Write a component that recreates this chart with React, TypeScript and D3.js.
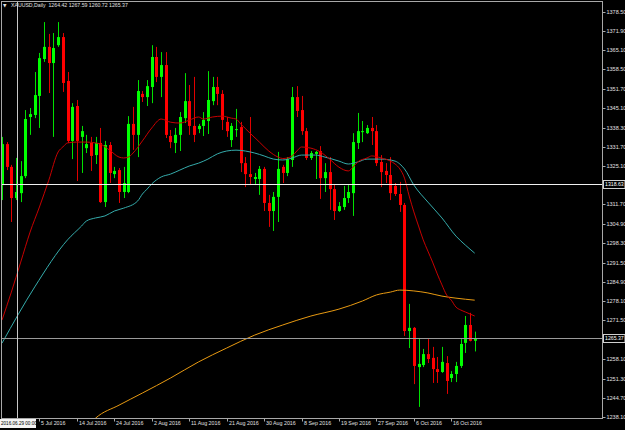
import React, { useEffect, useRef } from "react";
import * as d3 from "d3";

// XAUUSD daily, one candle per bar (broker has Sunday bars): 26 Jun 2016 .. 21 Oct 2016
const symbol = "XAUUSD,Daily";

const opens = [
  1318.4, 1332.6, 1324.7, 1313.9, 1315.6, 1321.5, 1342.0, 1342.7, 1349.3, 1362.1,
  1366.3, 1360.7, 1366.9, 1369.7, 1354.5, 1333.7, 1345.8, 1335.1, 1331.2, 1333.0,
  1328.8, 1333.0, 1312.5, 1332.3, 1322.2, 1323.6, 1316.0, 1316.0, 1339.6, 1335.8,
  1350.0, 1348.9, 1352.4, 1362.8, 1355.9, 1360.0, 1335.4, 1333.0, 1335.8, 1341.6,
  1347.5, 1338.9, 1337.8, 1338.9, 1340.6, 1347.5, 1352.4, 1350.0, 1340.3, 1334.0,
  1337.5, 1338.5, 1326.0, 1322.2, 1320.5, 1320.5, 1324.0, 1312.2, 1309.4, 1314.3,
  1324.7, 1322.6, 1327.1, 1348.9, 1344.4, 1337.1, 1327.8, 1329.2, 1330.2, 1320.8,
  1322.9, 1317.0, 1309.4, 1310.8, 1313.9, 1315.6, 1333.0, 1336.8, 1336.4, 1338.2,
  1337.1, 1326.4, 1323.3, 1321.9, 1318.1, 1315.3, 1311.5, 1267.8, 1268.9, 1255.3,
  1256.0, 1259.8, 1258.5, 1254.6, 1253.6, 1256.7, 1251.5, 1252.9, 1255.7, 1263.7,
  1269.9, 1264.42,
];
const highs = [
  1335.1, 1333.3, 1325.4, 1327.8, 1326.7, 1344.4, 1345.1, 1357.6, 1364.2, 1374.9,
  1370.8, 1371.1, 1374.9, 1371.1, 1357.6, 1346.8, 1347.9, 1338.9, 1335.8, 1335.1,
  1335.1, 1338.2, 1333.7, 1333.3, 1324.7, 1324.3, 1324.7, 1342.3, 1345.5, 1354.8,
  1351.0, 1354.8, 1366.9, 1366.3, 1364.5, 1364.5, 1337.5, 1338.2, 1343.7, 1357.2,
  1353.1, 1355.9, 1339.6, 1343.7, 1357.9, 1355.9, 1355.9, 1351.3, 1342.0, 1339.9,
  1344.8, 1340.3, 1328.1, 1342.0, 1322.6, 1325.0, 1324.7, 1315.0, 1316.0, 1329.9,
  1325.4, 1328.1, 1352.4, 1352.7, 1349.3, 1338.2, 1330.2, 1330.2, 1331.9, 1326.0,
  1328.1, 1318.4, 1312.5, 1318.1, 1318.4, 1336.4, 1343.4, 1340.6, 1339.2, 1342.0,
  1339.2, 1328.8, 1326.0, 1328.1, 1319.1, 1319.5, 1312.2, 1277.2, 1269.2, 1265.4,
  1261.6, 1265.0, 1262.3, 1258.8, 1262.3, 1259.1, 1253.9, 1257.1, 1265.0, 1273.0,
  1274.1, 1267.59,
];
const lows = [
  1313.2, 1323.6, 1305.6, 1313.2, 1312.5, 1320.8, 1335.8, 1341.6, 1338.2, 1361.1,
  1350.3, 1335.1, 1366.3, 1350.7, 1333.0, 1327.4, 1319.8, 1322.6, 1329.5, 1323.3,
  1325.7, 1312.2, 1310.8, 1319.1, 1320.8, 1312.2, 1313.9, 1315.6, 1330.6, 1328.1,
  1347.2, 1345.8, 1346.8, 1354.1, 1348.9, 1334.7, 1331.2, 1329.5, 1330.2, 1339.9,
  1335.8, 1333.3, 1336.4, 1335.4, 1336.1, 1346.1, 1346.1, 1337.5, 1335.1, 1331.6,
  1335.1, 1322.9, 1317.7, 1318.4, 1318.4, 1315.0, 1309.4, 1303.9, 1302.5, 1305.6,
  1319.1, 1321.5, 1324.7, 1342.0, 1335.8, 1327.1, 1327.1, 1320.5, 1313.6, 1316.0,
  1309.8, 1306.3, 1309.1, 1309.8, 1312.2, 1307.7, 1330.9, 1333.3, 1336.1, 1332.3,
  1325.0, 1317.7, 1319.1, 1313.2, 1314.6, 1309.1, 1266.1, 1261.9, 1249.4, 1241.5,
  1255.3, 1256.7, 1249.8, 1249.8, 1253.3, 1246.0, 1250.1, 1250.1, 1255.0, 1260.2,
  1264.2, 1260.72,
];
const closes = [
  1332.6, 1324.7, 1313.9, 1316.0, 1321.5, 1341.3, 1343.0, 1349.6, 1362.4, 1366.3,
  1360.7, 1365.9, 1369.7, 1353.8, 1333.7, 1345.5, 1333.7, 1337.1, 1332.6, 1328.5,
  1333.0, 1312.5, 1332.3, 1322.6, 1323.3, 1316.0, 1319.1, 1339.6, 1335.8, 1351.0,
  1348.9, 1352.7, 1362.8, 1355.9, 1360.0, 1335.8, 1333.3, 1335.8, 1342.0, 1347.5,
  1338.9, 1335.8, 1338.9, 1341.0, 1347.9, 1352.4, 1350.0, 1341.0, 1337.1, 1338.9,
  1337.8, 1326.0, 1322.2, 1321.2, 1321.2, 1324.0, 1312.2, 1309.4, 1314.3, 1324.0,
  1322.6, 1327.4, 1348.9, 1344.1, 1337.1, 1327.8, 1329.5, 1329.9, 1320.8, 1322.9,
  1317.0, 1309.4, 1311.1, 1313.9, 1316.0, 1333.3, 1337.1, 1337.1, 1338.2, 1337.1,
  1326.0, 1322.9, 1321.9, 1315.6, 1315.3, 1311.5, 1267.8, 1268.9, 1255.7, 1256.4,
  1259.8, 1258.1, 1254.6, 1253.6, 1257.1, 1250.5, 1252.9, 1255.7, 1263.3, 1269.9,
  1264.4, 1265.37,
];

// moving averages: [bar index, price]
const maFast: [number, number][] = [
  [0, 1271.6], [2, 1281.3], [4, 1291.7], [6, 1302.1], [8, 1310.8], [10, 1320.1],
  [12, 1329.9], [13, 1331.6], [14, 1333.0], [16, 1333.3], [18, 1333.3], [20, 1333.0],
  [21, 1332.6], [23, 1330.5], [25, 1328.1], [26, 1327.8], [27, 1328.1], [28, 1329.5],
  [30, 1333.7], [32, 1338.2], [34, 1341.3], [36, 1340.2], [38, 1339.9], [40, 1340.9],
  [42, 1342.0], [43, 1341.3], [45, 1342.0], [47, 1342.3], [49, 1341.6], [50, 1341.3],
  [51, 1339.6], [53, 1336.4], [55, 1333.3], [57, 1330.2], [59, 1328.1], [60, 1327.6],
  [61, 1327.8], [62, 1328.5], [63, 1330.2], [64, 1331.6], [66, 1331.2], [68, 1329.9],
  [70, 1327.4], [72, 1324.6], [74, 1323.3], [75, 1324.6], [76, 1326.4], [78, 1327.8],
  [79, 1328.5], [81, 1327.8], [83, 1326.7], [84, 1325.7], [85, 1324.0], [86, 1320.8],
  [87, 1314.6], [88, 1309.1], [89, 1304.2], [90, 1299.4], [91, 1295.5], [92, 1291.7],
  [93, 1287.6], [94, 1283.8], [95, 1280.3], [96, 1278.5], [97, 1276.1], [98, 1275.1],
  [99, 1274.4], [100, 1273.7], [101, 1273.0],
];
const maMid: [number, number][] = [
  [0, 1263.6], [7, 1283.1], [14, 1299.4], [17, 1304.2], [18, 1305.9], [20, 1307.0],
  [22, 1307.7], [24, 1309.4], [26, 1310.4], [29, 1312.9], [30, 1315.3], [31, 1317.0],
  [32, 1318.8], [34, 1321.2], [36, 1322.2], [38, 1323.6], [40, 1325.0], [42, 1326.0],
  [44, 1327.4], [46, 1329.2], [48, 1330.2], [50, 1330.5], [52, 1330.2], [54, 1329.5],
  [56, 1328.5], [58, 1327.4], [60, 1327.1], [62, 1327.8], [64, 1328.8], [67, 1328.8],
  [69, 1328.1], [72, 1326.7], [74, 1325.7], [76, 1326.4], [78, 1327.4], [81, 1327.4],
  [84, 1326.7], [85, 1325.7], [86, 1324.0], [88, 1318.4], [91, 1312.5], [94, 1307.0],
  [97, 1300.7], [99, 1297.6], [101, 1294.8],
];
const maSlow: [number, number][] = [
  [19, 1236.0], [20, 1237.6], [25, 1242.1], [30, 1246.3], [36, 1251.5], [42, 1257.1],
  [48, 1261.9], [54, 1266.4], [60, 1269.9], [66, 1273.0], [72, 1275.4], [77, 1278.2],
  [80, 1280.3], [83, 1281.3], [85, 1282.0], [88, 1281.7], [91, 1281.0], [94, 1279.9],
  [97, 1279.2], [101, 1278.5],
];

const priceTicks = [
  1378.5, 1371.9, 1365.1, 1358.5, 1351.7, 1345.1, 1338.3, 1331.7, 1325.1, 1311.7,
  1304.9, 1298.3, 1291.5, 1284.9, 1278.1, 1271.5, 1258.1, 1251.3, 1244.7, 1238.1,
];
const timeTickBars = [8, 16, 24, 32, 40, 48, 56, 64, 72, 80, 88, 96];
const timeTickLabels = [
  "5 Jul 2016", "14 Jul 2016", "24 Jul 2016", "2 Aug 2016", "11 Aug 2016", "21 Aug 2016",
  "30 Aug 2016", "8 Sep 2016", "19 Sep 2016", "27 Sep 2016", "6 Oct 2016", "16 Oct 2016",
];

const hLinePrice = 1318.63;
const bidPrice = 1265.37;
const vLineBar = 3;
const vLineLabel = "2016.06.29 00:00";

const font = "'Liberation Sans', Arial, sans-serif";

const App = () => {
  const svgRef = useRef<SVGSVGElement>(null);

  useEffect(() => {
    document.body.style.margin = "0";
    document.body.style.background = "#000";

    const svg = d3.select(svgRef.current);
    svg.selectAll("*").remove();

    const W = 625;
    const H = 430;
    const plot = { left: 1.5, right: 602.5, top: 1.5, bottom: 418.5 };

    const x = d3.scaleLinear().domain([0, opens.length - 1]).range([2, 474.7]);
    const y = d3.scaleLinear().domain([1238.1, 1378.5]).range([416.7, 11.7]);

    svg.append("rect").attr("width", W).attr("height", H).attr("fill", "#000");

    svg
      .append("clipPath")
      .attr("id", "plotclip")
      .append("rect")
      .attr("x", plot.left)
      .attr("y", plot.top)
      .attr("width", plot.right - plot.left)
      .attr("height", plot.bottom - plot.top);

    const g = svg.append("g").attr("clip-path", "url(#plotclip)");

    // candles
    const bars = d3.range(opens.length);
    const candle = g.selectAll(".candle").data(bars).enter().append("g");
    candle
      .append("line")
      .attr("x1", (i) => Math.round(x(i)) + 0.5)
      .attr("x2", (i) => Math.round(x(i)) + 0.5)
      .attr("y1", (i) => y(highs[i]))
      .attr("y2", (i) => y(lows[i]))
      .attr("stroke", (i) => (closes[i] >= opens[i] ? "#00e000" : "#e00000"))
      .attr("stroke-width", 1);
    candle
      .append("rect")
      .attr("x", (i) => Math.round(x(i)) - 1)
      .attr("width", 3)
      .attr("y", (i) => y(Math.max(opens[i], closes[i])))
      .attr("height", (i) => Math.max(1, Math.abs(y(opens[i]) - y(closes[i]))))
      .attr("fill", (i) => (closes[i] >= opens[i] ? "#00ff00" : "#ff0000"));

    // moving averages
    const line = d3
      .line<[number, number]>()
      .x((d) => x(d[0]))
      .y((d) => y(d[1]))
      .curve(d3.curveMonotoneX);
    const mas: [[number, number][], string][] = [
      [maSlow, "#e89a12"],
      [maMid, "#35abab"],
      [maFast, "#c80000"],
    ];
    mas.forEach(([pts, color]) => {
      g.append("path")
        .attr("d", line(pts))
        .attr("fill", "none")
        .attr("stroke", color)
        .attr("stroke-width", 1);
    });

    // horizontal line, bid line, vertical line
    g.append("line")
      .attr("x1", plot.left)
      .attr("x2", plot.right)
      .attr("y1", Math.round(y(hLinePrice)) + 0.5)
      .attr("y2", Math.round(y(hLinePrice)) + 0.5)
      .attr("stroke", "#f0f0f0");
    g.append("line")
      .attr("x1", plot.left)
      .attr("x2", plot.right)
      .attr("y1", Math.round(y(bidPrice)) + 0.5)
      .attr("y2", Math.round(y(bidPrice)) + 0.5)
      .attr("stroke", "#9a9a9a");
    const vx = Math.round(x(vLineBar)) + 1.5;
    g.append("line")
      .attr("x1", vx)
      .attr("x2", vx)
      .attr("y1", plot.top)
      .attr("y2", plot.bottom)
      .attr("stroke", "#c8c8c8");

    // frame
    svg
      .append("rect")
      .attr("x", plot.left)
      .attr("y", plot.top)
      .attr("width", plot.right - plot.left)
      .attr("height", plot.bottom - plot.top)
      .attr("fill", "none")
      .attr("stroke", "#a8a8a8");

    // price scale
    priceTicks.forEach((p) => {
      const yy = Math.round(y(p)) + 0.5;
      svg
        .append("line")
        .attr("x1", plot.right)
        .attr("x2", plot.right + 3)
        .attr("y1", yy)
        .attr("y2", yy)
        .attr("stroke", "#a8a8a8");
      svg
        .append("text")
        .attr("x", plot.right + 4)
        .attr("y", yy)
        .attr("dominant-baseline", "middle")
        .attr("fill", "#e0e0e0")
        .style("font-family", font)
        .style("font-size", "5.5px")
        .text(p.toFixed(2));
    });

    [hLinePrice, bidPrice].forEach((p) => {
      const yy = Math.round(y(p)) + 0.5;
      svg
        .append("rect")
        .attr("x", plot.right + 1)
        .attr("y", yy - 4)
        .attr("width", 21.5)
        .attr("height", 8)
        .attr("fill", "#000")
        .attr("stroke", "#d0d0d0");
      svg
        .append("text")
        .attr("x", plot.right + 2.5)
        .attr("y", yy)
        .attr("dominant-baseline", "middle")
        .attr("fill", "#ffffff")
        .style("font-family", font)
        .style("font-size", "5.2px")
        .text(p.toFixed(2));
    });

    // time scale
    timeTickBars.forEach((b, i) => {
      const xx = Math.round(x(b)) + 0.5;
      svg
        .append("line")
        .attr("x1", xx)
        .attr("x2", xx)
        .attr("y1", plot.bottom)
        .attr("y2", plot.bottom + 3)
        .attr("stroke", "#a8a8a8");
      svg
        .append("text")
        .attr("x", xx + 1.5)
        .attr("y", 423.5)
        .attr("dominant-baseline", "middle")
        .attr("fill", "#e0e0e0")
        .style("font-family", font)
        .style("font-size", "5.3px")
        .text(timeTickLabels[i]);
    });
    svg
      .append("rect")
      .attr("x", 0)
      .attr("y", 419)
      .attr("width", 36)
      .attr("height", 9)
      .attr("fill", "#f4f4f4");
    svg
      .append("text")
      .attr("x", 1)
      .attr("y", 423.5)
      .attr("dominant-baseline", "middle")
      .attr("fill", "#000")
      .style("font-family", font)
      .style("font-size", "4.6px")
      .text(vLineLabel);

    // header
    const last = opens.length - 1;
    svg
      .append("text")
      .attr("x", 3)
      .attr("y", 6)
      .attr("dominant-baseline", "middle")
      .attr("fill", "#e0e0e0")
      .style("font-family", "'DejaVu Sans', sans-serif")
      .style("font-size", "4.5px")
      .text("▼");
    svg
      .append("text")
      .attr("x", 11)
      .attr("y", 6)
      .attr("dominant-baseline", "middle")
      .attr("fill", "#e0e0e0")
      .style("font-family", font)
      .style("font-size", "5.2px")
      .attr("xml:space", "preserve")
      .text(
        `${symbol}  ${opens[last].toFixed(2)} ${highs[last].toFixed(2)} ${lows[last].toFixed(2)} ${closes[last].toFixed(2)}`
      );
  }, []);

  return <svg ref={svgRef} width={625} height={430} style={{ display: "block" }}></svg>;
};

export default App;
